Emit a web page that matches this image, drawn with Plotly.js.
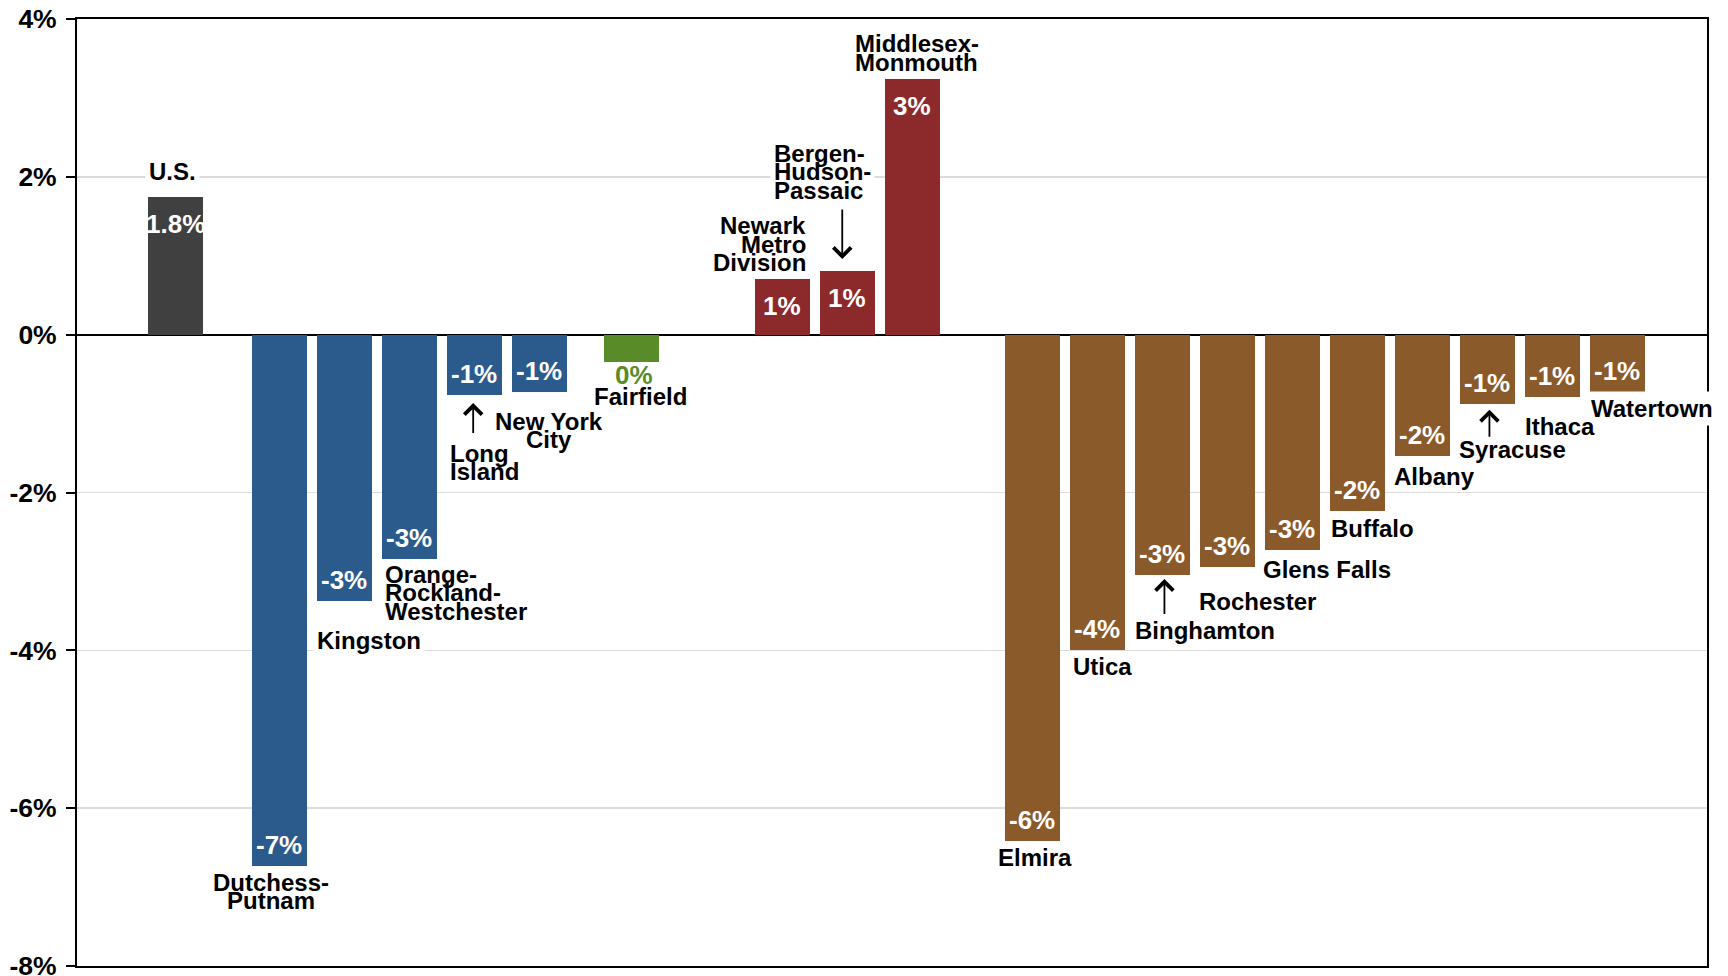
<!DOCTYPE html>
<html>
<head>
<meta charset="utf-8">
<script src="https://cdn.plot.ly/plotly-3.0.1.min.js"></script>
<style>
  html, body { margin: 0; padding: 0; background: #fff; }
  #chart { width: 1728px; height: 976px; }
</style>
</head>
<body>
<div id="chart"></div>
<script>
// Employment change by area, percent
const usArea = ['U.S.'];
const usChange = [1.75];

const downstateNY = ['Dutchess-<br>Putnam', 'Kingston', 'Orange-<br>Rockland-<br>Westchester', 'Long<br>Island', 'New York<br>City'];
const downstateNYChange = [-6.73, -3.37, -2.84, -0.77, -0.73];

const connecticut = ['Fairfield'];
const connecticutChange = [-0.34];

const northernNJ = ['Newark<br>Metro<br>Division', 'Bergen-<br>Hudson-<br>Passaic', 'Middlesex-<br>Monmouth'];
const northernNJChange = [0.70, 0.81, 3.24];

const upstateNY = ['Elmira', 'Utica', 'Binghamton', 'Rochester', 'Glens Falls', 'Buffalo', 'Albany', 'Syracuse', 'Ithaca', 'Watertown'];
const upstateNYChange = [-6.41, -3.99, -3.04, -2.95, -2.73, -2.23, -1.54, -0.88, -0.79, -0.73];

const yTickValues = [4, 2, 0, -2, -4, -6, -8];
const yTickLabels = ['4%', '2%', '0%', '-2%', '-4%', '-6%', '-8%'];

// ---- drawing setup ----
const FONT = 'Liberation Sans, Arial, Helvetica, sans-serif';
const W = 1728, H = 976;
const M = { l: 77, r: 21, t: 19, b: 10 };
const Y_RANGE = [-8, 4];
const SLOT_PX = 65;                       // one bar pitch in pixels
const X_MIN = -1.515;
const X_RANGE = [X_MIN, X_MIN + (W - M.l - M.r) / SLOT_PX];
const PX_PER_PCT = (H - M.t - M.b) / (Y_RANGE[1] - Y_RANGE[0]);

// group colours, spacing before each group (in bar pitches) and label precision
const groups = [
  { names: usArea,       values: usChange,          color: '#404040', gap: 0,     decimals: 1 },
  { names: downstateNY,  values: downstateNYChange, color: '#2B5B8C', gap: 1.6,   decimals: 0 },
  { names: connecticut,  values: connecticutChange, color: '#5A8B29', gap: 1.415, decimals: 0 },
  { names: northernNJ,   values: northernNJChange,  color: '#8B292B', gap: 2.323, decimals: 0 },
  { names: upstateNY,    values: upstateNYChange,   color: '#8B5A2B', gap: 1.846, decimals: 0 }
];

// name label placement: anchor and pixel offset of the first line's centre from the bar end
// (dx to the right of the bar centre, dy downward on screen); bg lists lines that get a white
// backing box so grid and frame lines stop short of them; optional arrow from label to bar
const placement = {
  'U.S.':                        { a: 'center', dx: -2.5,  dy: -25.3, bg: [0] },
  'Dutchess-Putnam':             { a: 'center', dx: -8,    dy: 16.3 },
  'Kingston':                    { a: 'left',   dx: -28.5, dy: 39.8, bg: [0] },
  'Orange-Rockland-Westchester': { a: 'left',   dx: -25.5, dy: 15.3 },
  'Long Island':                 { a: 'left',   dx: -25.8, dy: 57.8, arrow: { dx: -1.3, dy: 7.6, len: 32 } },
  'New York City':               { a: 'center', dx: 10,    dy: 28.8 },
  'Fairfield':                   { a: 'center', dx: 9.5,   dy: 35.4 },
  'Newark Metro Division':       { a: 'right',  dx: 24.2,  dy: -54 },
  'Bergen-Hudson-Passaic':       { a: 'left',   dx: -74.2, dy: -117.7, bg: [1], arrow: { dx: -5.2, dy: -11.7, len: -51.6 } },
  'Middlesex-Monmouth':          { a: 'left',   dx: -58.5, dy: -35.5 },
  'Elmira':                      { a: 'center', dx: 2.3,   dy: 17.2 },
  'Utica':                       { a: 'left',   dx: -25.5, dy: 16.5 },
  'Binghamton':                  { a: 'left',   dx: -28.5, dy: 55.8, arrow: { dx: 2, dy: 4.5, len: 37 } },
  'Rochester':                   { a: 'left',   dx: -29,   dy: 34 },
  'Glens Falls':                 { a: 'left',   dx: -30.5, dy: 19.7 },
  'Buffalo':                     { a: 'left',   dx: -27,   dy: 17.7 },
  'Albany':                      { a: 'left',   dx: -29.5, dy: 19.8 },
  'Syracuse':                    { a: 'left',   dx: -29,   dy: 45,   arrow: { dx: 2, dy: 5.6, len: 29 } },
  'Ithaca':                      { a: 'left',   dx: -28,   dy: 29 },
  'Watertown':                   { a: 'left',   dx: -27.5, dy: 16.7, bg: [0] }
};

const LINE_GAP = 18.7;
const NAME_SIZE = 24;
const VALUE_SIZE = 26;
const PAD = 1;
const BG_PAD = 3;
const BAR_WIDTH = 55 / SLOT_PX;

function fmtPct(v, d) {
  const f = Math.pow(10, d);
  return (Math.round(v * f) / f).toFixed(d) + '%';
}

const traces = [];
const backedNotes = [], arrowNotes = [], textNotes = [];

let pos = 0;
groups.forEach((g, gi) => {
  pos = gi === 0 ? 0 : pos + g.gap;
  const xs = g.values.map((_, i) => pos + i);
  pos = xs[xs.length - 1];

  traces.push({
    type: 'bar',
    x: xs,
    y: g.values,
    width: xs.map(() => BAR_WIDTH),
    marker: { color: g.color, line: { width: 0 } },
    hoverinfo: 'skip',
    showlegend: false
  });

  g.values.forEach((v, i) => {
    const x = xs[i];
    const name = g.names[i];
    const key = name.replace(/<br>/g, ' ').replace(/- /g, '-');
    const p = placement[key];
    const lines = name.split('<br>');
    const backed = p.bg || [];

    // name label, one annotation per line for tight leading
    lines.forEach((ln, li) => {
      const hasBg = backed.indexOf(li) >= 0;
      const pad = hasBg ? BG_PAD : PAD;
      const shiftX = p.a === 'left' ? p.dx - pad : (p.a === 'right' ? p.dx + pad : p.dx);
      const note = {
        x: x, y: v, xref: 'x', yref: 'y',
        text: ln, showarrow: false,
        xanchor: p.a, yanchor: 'middle',
        xshift: shiftX, yshift: -(p.dy + li * LINE_GAP),
        borderpad: pad,
        font: { family: FONT, size: NAME_SIZE, weight: 'bold', color: '#000000' }
      };
      if (hasBg) {
        note.bgcolor = '#ffffff';
        backedNotes.push(note);
      } else {
        textNotes.push(note);
      }
    });

    if (p.arrow) {
      arrowNotes.push({
        x: x, y: v, xref: 'x', yref: 'y',
        xshift: p.arrow.dx, yshift: -p.arrow.dy,
        text: ' ', font: { size: 1 },
        showarrow: true, ax: 0, ay: p.arrow.len,
        arrowhead: 4, arrowsize: 1.9, arrowwidth: 1.8, arrowcolor: '#000000',
        standoff: 0, startstandoff: 0
      });
    }

    // value label: inside the bar end, or below it in the bar colour when the bar is too short
    const barPx = Math.abs(v) * PX_PER_PCT;
    const inside = barPx > 30;
    let dy;
    if (inside) dy = v >= 0 ? 27 : -21;
    else dy = v >= 0 ? -13 : 13;
    textNotes.push({
      x: x, y: v, xref: 'x', yref: 'y',
      text: fmtPct(v, g.decimals), showarrow: false,
      xanchor: 'center', yanchor: 'middle',
      xshift: inside ? 0 : 3, yshift: -dy,
      font: { family: FONT, size: VALUE_SIZE, weight: 'bold', color: inside ? '#ffffff' : g.color }
    });
  });
});

const layout = {
  width: W, height: H,
  margin: M,
  paper_bgcolor: '#ffffff',
  plot_bgcolor: '#ffffff',
  showlegend: false,
  font: { family: FONT, color: '#000000' },
  bargap: 0,
  xaxis: {
    range: X_RANGE,
    showgrid: false, zeroline: false,
    showticklabels: false, ticks: '',
    showline: true, mirror: true, linecolor: '#000000', linewidth: 2,
    fixedrange: true
  },
  yaxis: {
    range: Y_RANGE,
    tickmode: 'array', tickvals: yTickValues, ticktext: yTickLabels,
    ticks: 'outside', ticklen: 9, tickwidth: 2, tickcolor: '#000000',
    ticklabelstandoff: 4,
    ticklabeloverflow: 'allow',
    tickfont: { family: FONT, size: 26.5, weight: 'bold', color: '#000000' },
    showline: true, mirror: true, linecolor: '#000000', linewidth: 2,
    showgrid: true, gridcolor: '#dcdcdc', gridwidth: 1.5,
    zeroline: true, zerolinecolor: '#000000', zerolinewidth: 2,
    fixedrange: true
  },
  annotations: backedNotes.concat(arrowNotes, textNotes)
};

Plotly.newPlot('chart', traces, layout, { displayModeBar: false, staticPlot: true });
</script>
</body>
</html>
